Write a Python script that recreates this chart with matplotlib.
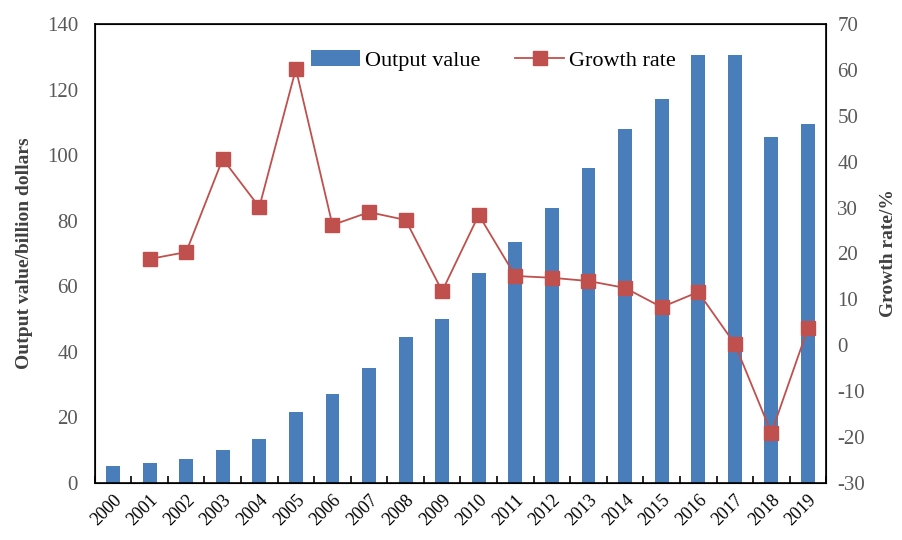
import matplotlib.pyplot as plt
import numpy as np

plt.rcParams['font.family'] = ['Liberation Serif', 'DejaVu Serif']
plt.rcParams['axes.unicode_minus'] = False

years = [str(y) for y in range(2000, 2020)]
output_value = [5.2, 6.1, 7.3, 10.2, 13.4, 21.5, 27.0, 35.0, 44.5, 50.0,
                64.0, 73.5, 84.0, 96.0, 108.0, 117.0, 130.5, 130.5, 105.5, 109.5]
growth_years = years[1:]
growth_rate = [18.8, 20.3, 40.6, 30.1, 60.2, 26.2, 29.0, 27.3, 11.8, 28.4,
               15.1, 14.7, 14.0, 12.5, 8.3, 11.6, 0.3, -19.1, 3.7]

bar_color = '#4a7ebb'
line_color = '#c0504d'
grey = '#595959'

fig = plt.figure(figsize=(9.02, 5.4), dpi=100)
ax = fig.add_axes([0.105, 0.1056, 0.811, 0.85])
x = np.arange(len(years))
bars = ax.bar(x, output_value, width=0.38, color=bar_color, label='Output value', zorder=2)
ax.set_xlim(-0.5, len(years) - 0.5)
ax.set_ylim(0, 140)
ax.set_yticks(range(0, 141, 20))
ax.set_xticks(x)
ax.set_xticklabels(years, rotation=45, ha='right', rotation_mode='anchor', fontsize=13, color='black')
ax.tick_params(axis='x', length=0, pad=6)
# boundary ticks between categories
ax.set_xticks(np.arange(-0.5, len(years), 1), minor=True)
ax.tick_params(axis='x', which='minor', direction='in', length=5, width=1.2)
ax.tick_params(axis='y', length=0, labelsize=15, labelcolor=grey, pad=12)
ax.set_ylabel('Output value/billion dollars', fontsize=14, fontweight='bold', color='#404040', labelpad=10)
for s in ax.spines.values():
    s.set_linewidth(1.2)

ax2 = ax.twinx()
gx = np.arange(1, len(years))
line, = ax2.plot(gx, growth_rate, color=line_color, marker='s', markersize=10,
                 linewidth=1.3, label='Growth rate', zorder=3)
ax2.set_ylim(-30, 70)
ax2.set_yticks(range(-30, 71, 10))
ax2.tick_params(axis='y', length=0, labelsize=15, labelcolor=grey, pad=8)
ax2.set_ylabel('Growth rate/%', fontsize=14, fontweight='bold', color='#404040', labelpad=11)

ax.legend([bars, line], ['Output value', 'Growth rate'], loc='center',
          bbox_to_anchor=(0.545, 0.92), ncol=2, frameon=False, fontsize=16,
          handlelength=2.2, columnspacing=1.6, handletextpad=0.2)

fig.savefig('out.png', dpi=100)
